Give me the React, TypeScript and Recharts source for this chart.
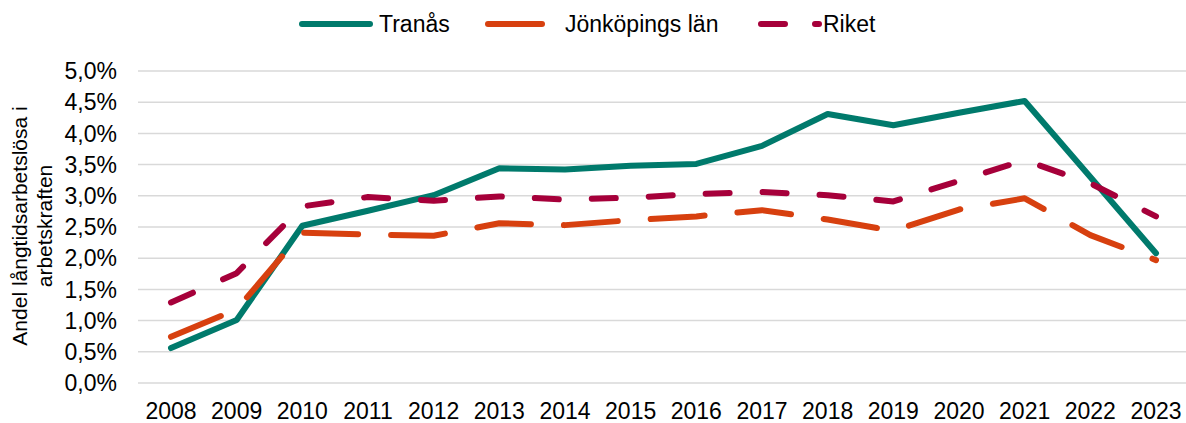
import React from 'react';
import { LineChart, Line, XAxis, YAxis, CartesianGrid } from 'recharts';

const years = ['2008','2009','2010','2011','2012','2013','2014','2015','2016','2017','2018','2019','2020','2021','2022','2023'];
const tranas = [0.56, 1.01, 2.52, 2.76, 3.01, 3.44, 3.42, 3.48, 3.51, 3.80, 4.31, 4.13, 4.33, 4.52, 3.30, 2.08];
const jonkoping = [0.74, 1.18, 2.41, 2.38, 2.36, 2.56, 2.53, 2.61, 2.67, 2.77, 2.62, 2.44, 2.78, 2.96, 2.37, 1.97];
const riket = [1.29, 1.76, 2.83, 2.98, 2.92, 2.99, 2.94, 2.97, 3.03, 3.06, 3.01, 2.91, 3.24, 3.57, 3.20, 2.67];
const yTicks = [0, 0.5, 1, 1.5, 2, 2.5, 3, 3.5, 4, 4.5, 5];
const seriesNames = ['Tranås', 'Jönköpings län', 'Riket'];
const yTitle = ['Andel långtidsarbetslösa i', 'arbetskraften'];

const data = years.map((y, i) => ({ year: y, tranas: tranas[i], jonkoping: jonkoping[i], riket: riket[i] }));

const C_TRANAS = '#007A6C';
const C_JKPG = '#D7400F';
const C_RIKET = '#A6003A';
const FONT = '"Liberation Sans", Arial, sans-serif';

const fmt = (v: number) => v.toFixed(1).replace('.', ',') + '%';

const LegendOverlay = () => {
  const items = [
    { name: seriesNames[0], color: C_TRANAS, dash: undefined as string | undefined, x: 302, len: 68, tx: 379 },
    { name: seriesNames[1], color: C_JKPG, dash: '54 33', x: 488, len: 68, tx: 565 },
    { name: seriesNames[2], color: C_RIKET, dash: '24 30', x: 761, len: 58, tx: 823 },
  ];
  return (
    <svg width={1186} height={50} style={{ position: 'absolute', left: 0, top: 0, display: 'block' }}>
      {items.map((it) => (
        <g key={it.name}>
          <line x1={it.x} y1={24} x2={it.x + it.len} y2={24} stroke={it.color} strokeWidth={6} strokeLinecap="round" strokeDasharray={it.dash} />
          <text x={it.tx} y={32} fontFamily={FONT} fontSize={23} fill="#000">{it.name}</text>
        </g>
      ))}
    </svg>
  );
};

const YTitle = () => (
  <text x={27} y={226} transform="rotate(-90, 27, 226)" textAnchor="middle" fontFamily={FONT} fontSize={21} fill="#000">
    <tspan x={27} dy={0}>{yTitle[0]}</tspan>
    <tspan x={27} dy={25}>{yTitle[1]}</tspan>
  </text>
);

export default function App() {
  return (
    <div style={{ position: 'absolute', left: 0, top: 0, width: 1186, height: 423, overflow: 'hidden', background: '#fff' }}>
      <LineChart width={1190} height={423} data={data} margin={{ top: 71, right: 1, bottom: 0, left: 0 }}>
        <CartesianGrid vertical={false} stroke="#D9D9D9" strokeWidth={1.5} />
        <XAxis dataKey="year" axisLine={false} tickLine={false} tickSize={0} tickMargin={20} height={40} interval={0}
          padding={{ left: 33, right: 33 }}
          tick={{ fontFamily: FONT, fontSize: 23, fill: '#000' }} />
        <YAxis domain={[0, 5]} ticks={yTicks} tickFormatter={fmt} axisLine={false} tickLine={false} tickSize={0} tickMargin={21}
          width={138} interval={0} tick={{ fontFamily: FONT, fontSize: 23, fill: '#000' }} label={<YTitle />} />
        <Line dataKey="tranas" name={seriesNames[0]} stroke={C_TRANAS} strokeWidth={6} dot={false} isAnimationActive={false} strokeLinejoin="round" strokeLinecap="round" />
        <Line dataKey="jonkoping" name={seriesNames[1]} stroke={C_JKPG} strokeWidth={6} dot={false} isAnimationActive={false} strokeDasharray="54 33" strokeLinejoin="round" strokeLinecap="round" />
        <Line dataKey="riket" name={seriesNames[2]} stroke={C_RIKET} strokeWidth={6} dot={false} isAnimationActive={false} strokeDasharray="24 33" strokeLinejoin="round" strokeLinecap="round" />
      </LineChart>
      <LegendOverlay />
    </div>
  );
}
